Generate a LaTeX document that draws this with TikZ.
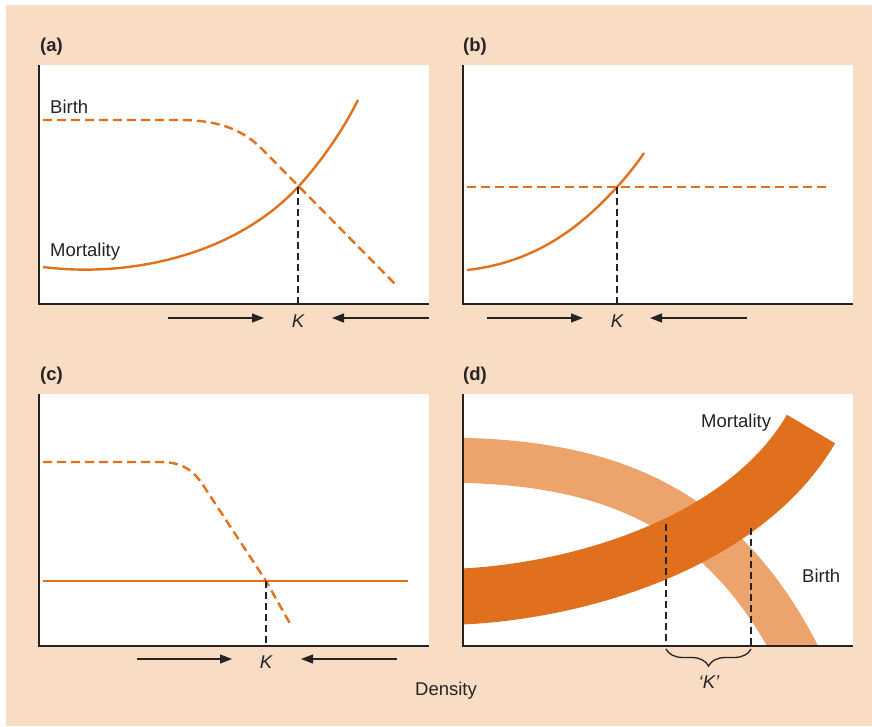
\documentclass[tikz,border=0pt]{standalone}
\usepackage{fontspec}
\setmainfont{Liberation Sans}
\usetikzlibrary{arrows.meta,decorations.pathreplacing}

\definecolor{peach}{HTML}{F9DCC4}
\definecolor{curveorange}{HTML}{E2711E}
\definecolor{bandlight}{HTML}{EDA36C}
\definecolor{banddark}{HTML}{E0701E}
\definecolor{inkgray}{HTML}{262324}

\tikzset{
  lbl/.style={font=\fontsize{18.5}{22}\selectfont, text=inkgray, inner sep=0pt},
  tag/.style={font=\bfseries\fontsize{18.5}{22}\selectfont, text=inkgray, inner sep=0pt, anchor=base west},
  klabel/.style={font=\itshape\fontsize{18.5}{22}\selectfont, text=inkgray, inner sep=0pt, anchor=base},
  birthline/.style={draw=curveorange, line width=2.4pt, dash pattern=on 9pt off 5pt},
  mortline/.style={draw=curveorange, line width=2.4pt},
  axis/.style={draw=inkgray, line width=1.7pt},
  kline/.style={draw=inkgray, line width=1.2pt, dash pattern=on 7pt off 4pt},
  arr/.style={draw=inkgray, line width=1.3pt, -{Triangle[length=12pt,width=9pt]}},
}

\begin{document}
\begin{tikzpicture}[x=1pt, y=-1pt]
    \useasboundingbox (0,0) rectangle (872,726);
    \fill[peach] (6,5) rectangle (872,726);

    % Panels
    \fill[white] (39,65) rectangle (429,304);
    \fill[white] (463,65) rectangle (853,304);
    \fill[white] (39,394) rectangle (429,646);
    \fill[white] (463,394) rectangle (853,646);

    \node[tag] (taga) at (40,51) {(a)};
    \node[tag] (tagb) at (463,51) {(b)};
    \node[tag] (tagc) at (40,380) {(c)};
    \node[tag] (tagd) at (463,380) {(d)};

    % Panel (a)
    \draw[birthline] (43,120) -- (180,120) .. controls (215,120) and (240,128) .. (260,147) -- (396,285);
    \draw[mortline] (43,267) .. controls (130,278) and (235,255) .. (298,187) .. controls (320,163) and (342,132) .. (358,100);
    \node[lbl, anchor=base west] (birtha) at (50,113) {Birth};
    \node[lbl, anchor=base west] (morta) at (50,256) {Mortality};
    \coordinate (crossa) at (298,187);
    \coordinate (foota) at (298,304);
    \draw[kline] (crossa) -- (foota);
    \draw[axis] (39,65) -- (39,304) -- (429,304);
    \node[klabel] (Ka) at (298,327) {K};
    \coordinate (a-l0) at (168,318);
    \coordinate (a-l1) at (264,318);
    \coordinate (a-r0) at (429,318);
    \coordinate (a-r1) at (332,318);
    \draw[arr] (a-l0) -- (a-l1);
    \draw[arr] (a-r0) -- (a-r1);

    % Panel (b)
    \draw[birthline] (467,187) -- (831,187);
    \draw[mortline] (467,270) .. controls (540,262) and (585,222) .. (617,187) .. controls (627,176) and (636,165) .. (644,153);
    \coordinate (crossb) at (617,187);
    \coordinate (footb) at (617,304);
    \draw[kline] (crossb) -- (footb);
    \draw[axis] (463,65) -- (463,304) -- (853,304);
    \node[klabel] (Kb) at (617,327) {K};
    \coordinate (b-l0) at (487,318);
    \coordinate (b-l1) at (583,318);
    \coordinate (b-r0) at (747,318);
    \coordinate (b-r1) at (650,318);
    \draw[arr] (b-l0) -- (b-l1);
    \draw[arr] (b-r0) -- (b-r1);

    % Panel (c)
    \draw[birthline] (43,462) -- (160,462) .. controls (182,462) and (193,470) .. (203,485) -- (266,581) -- (292,627);
    \draw[mortline] (43,581) -- (408,581);
    \coordinate (crossc) at (266,581);
    \coordinate (footc) at (266,646);
    \draw[kline] (crossc) -- (footc);
    \draw[axis] (39,394) -- (39,646) -- (429,646);
    \node[klabel] (Kc) at (266,668) {K};
    \coordinate (c-l0) at (137,659);
    \coordinate (c-l1) at (232,659);
    \coordinate (c-r0) at (397,659);
    \coordinate (c-r1) at (301,659);
    \draw[arr] (c-l0) -- (c-l1);
    \draw[arr] (c-r0) -- (c-r1);

    % Panel (d)
    \begin{scope}
        \clip (463,394) rectangle (853,646);
        \draw[bandlight, line width=45pt] (440,460) .. controls (600,460) and (720,500) .. (800,660);
        \draw[banddark, line width=56pt] (440,597) .. controls (560,597) and (741,549) .. (811,429);
    \end{scope}
    \node[lbl, anchor=base west] (mortd) at (701,427) {Mortality};
    \node[lbl, anchor=base west] (birthd) at (802,582) {Birth};
    \coordinate (crossd1) at (666,524);
    \coordinate (footd1) at (666,646);
    \coordinate (crossd2) at (751,528);
    \coordinate (footd2) at (751,646);
    \draw[kline] (crossd1) -- (footd1);
    \draw[kline] (crossd2) -- (footd2);
    \draw[axis] (463,394) -- (463,646) -- (853,646);
    \draw[draw=inkgray, line width=1.3pt, decorate, decoration={brace, amplitude=17pt}] (751,649) -- (666,649);
    \node[klabel] (Kd) at (709,688) {‘K’};

    % Axis title
    \node[lbl, anchor=base] (density) at (446,695) {Density};
\end{tikzpicture}
\end{document}
